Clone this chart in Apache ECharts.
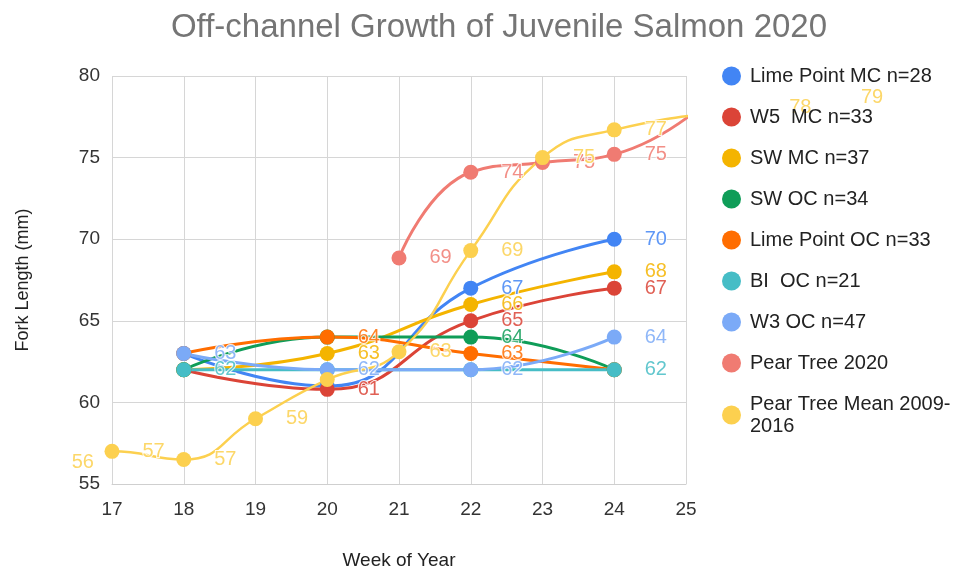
<!DOCTYPE html>
<html>
<head>
<meta charset="utf-8">
<script src="https://cdn.jsdelivr.net/npm/echarts@6/dist/echarts.min.js"></script>
<style>
html,body{margin:0;padding:0;background:#fff;}
#chart{width:963px;height:571px;}
</style>
</head>
<body>
<div id="chart"></div>
<script>
// ---- data ----
const seriesNames = ['Lime Point MC n=28', 'W5  MC n=33', 'SW MC n=37', 'SW OC n=34', 'Lime Point OC n=33', 'BI  OC n=21', 'W3 OC n=47', 'Pear Tree 2020', 'Pear Tree Mean 2009-2016'];
const weeks = [18, 20, 22, 24];
const limePointMC = [63, 61, 67, 70];
const w5MC = [62, 60.8, 65, 67];
const swMC = [62, 63, 66, 68];
const swOC = [62, 64, 64, 62];
const limePointOC = [63, 64, 63, 62];
const biOC = [62, 62, 62, 62];
const w3OC = [63, 62, 62, 64];
const pearTreeWeeks = [21, 22, 23, 24, 26];
const pearTree2020 = [68.85, 74.1, 74.7, 75.2, 81.5];
const pearMeanWeeks = [16, 17, 18, 19, 20, 21, 22, 23, 24, 26, 27];
const pearMean = [56.3, 57.0, 56.5, 59.0, 61.4, 63.1, 69.3, 75.0, 76.7, 78.1, 78.7];
const xTicks = [17, 18, 19, 20, 21, 22, 23, 24, 25];
const yTicks = [55, 60, 65, 70, 75, 80];
// weeks whose data labels are visible in the reference
const labelWeeks = [
  [22, 24],
  [20, 22, 24],
  [20, 22, 24],
  [22],
  [20, 22],
  [18, 24],
  [18, 20, 22, 24],
  [21, 22, 23, 24],
  [17, 18, 19, 21, 22, 23, 24]
];

const colors = ['#4285F4', '#DB4437', '#F4B400', '#0F9D58', '#FF6D00', '#46BDC6', '#7BAAF7', '#F07B72', '#FCD04F'];
const seriesX = [weeks, weeks, weeks, weeks, weeks, weeks, weeks, pearTreeWeeks, pearMeanWeeks];
const seriesY = [limePointMC, w5MC, swMC, swOC, limePointOC, biOC, w3OC, pearTree2020, pearMean];

const xMin = xTicks[0], xMax = xTicks[xTicks.length - 1];
const FONT = 'Liberation Sans, Arial, sans-serif';

const series = seriesNames.map((name, si) => ({
  name: name,
  type: 'line',
  smooth: 0.5,
  clip: true,
  symbol: 'circle',
  symbolSize: 15,
  showAllSymbol: true,
  color: colors[si],
  lineStyle: { width: si === 8 ? 2.5 : 3 },
  label: {
    position: 'right',
    distance: 23,
    fontSize: 20,
    fontFamily: FONT,
    color: colors[si],
    opacity: 0.85,
    textBorderColor: '#fff',
    textBorderWidth: 2,
    formatter: p => Math.round(p.value[1])
  },
  emphasis: { disabled: true },
  data: seriesX[si].map((w, i) => ({
    value: [w, seriesY[si][i]],
    label: { show: labelWeeks[si].includes(w) }
  }))
}));

// labels of the Pear Tree Mean points that lie outside the plotted week range
const outside = pearMeanWeeks.map((w, i) => [w, pearMean[i]]).filter(d => d[0] < xMin || d[0] > xMax);
series.push({
  name: 'pm-outside-labels',
  type: 'scatter',
  clip: false,
  symbolSize: 1,
  itemStyle: { color: 'rgba(0,0,0,0)' },
  label: {
    show: true,
    position: 'right',
    distance: 31,
    fontSize: 20,
    fontFamily: FONT,
    color: colors[8],
    opacity: 0.85,
    formatter: p => Math.round(p.value[1])
  },
  emphasis: { disabled: true },
  silent: true,
  data: outside
});

const chart = echarts.init(document.getElementById('chart'), null, { renderer: 'canvas' });
chart.setOption({
  animation: false,
  backgroundColor: '#fff',
  title: {
    text: 'Off-channel Growth of Juvenile Salmon 2020',
    left: 494,
    textAlign: 'center',
    top: 6,
    textStyle: { fontSize: 33, fontWeight: 'normal', color: '#757575', fontFamily: FONT }
  },
  legend: {
    data: seriesNames,
    orient: 'vertical',
    left: 717,
    top: 60,
    icon: 'circle',
    itemWidth: 19,
    itemHeight: 19,
    itemGap: 19,
    selectedMode: false,
    formatter: n => n === 'Pear Tree Mean 2009-2016' ? 'Pear Tree Mean 2009-\n2016' : n,
    textStyle: { fontSize: 20, lineHeight: 22, color: '#222', fontFamily: FONT, padding: [0, 0, 0, 4] }
  },
  grid: { left: 112, right: 277, top: 76, bottom: 87, containLabel: false, outerBoundsMode: 'none' },
  xAxis: {
    type: 'value',
    min: xMin,
    max: xMax,
    interval: 1,
    name: 'Week of Year',
    nameLocation: 'middle',
    nameGap: 67,
    nameTextStyle: { fontSize: 19, color: '#222', fontFamily: FONT },
    axisLine: { show: true, lineStyle: { color: '#cfcfcf' } },
    axisTick: { show: false },
    axisLabel: { fontSize: 19, color: '#333', margin: 16, fontFamily: FONT },
    splitLine: { show: true, lineStyle: { color: '#d6d6d6', width: 1 } }
  },
  yAxis: {
    type: 'value',
    min: yTicks[0],
    max: yTicks[yTicks.length - 1],
    interval: 5,
    name: 'Fork Length (mm)',
    nameLocation: 'middle',
    nameGap: 80,
    nameRotate: 90,
    nameTextStyle: { fontSize: 18, color: '#222', fontFamily: FONT },
    axisLine: { show: false },
    axisTick: { show: false },
    axisLabel: { fontSize: 19, color: '#333', margin: 12, fontFamily: FONT },
    splitLine: { show: true, lineStyle: { color: '#d6d6d6', width: 1 } }
  },
  series: series
});
</script>
</body>
</html>
